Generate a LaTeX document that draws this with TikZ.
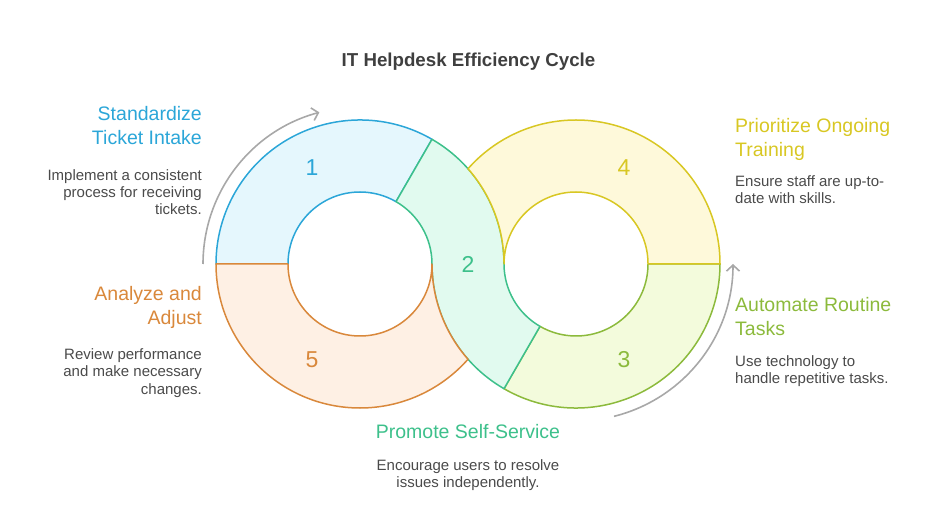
\documentclass[tikz,border=0pt]{standalone}
\usepackage{fontspec}
\setmainfont{Liberation Sans}
\usepackage{tikz}
\usetikzlibrary{calc}
\usetikzlibrary{arrows.meta}
\usepackage{xcolor}
\definecolor{c1}{HTML}{2BA6D8}
\definecolor{f1}{HTML}{E5F7FD}
\definecolor{c2}{HTML}{3DC08B}
\definecolor{f2}{HTML}{E1FAEF}
\definecolor{c3}{HTML}{8CBA3C}
\definecolor{f3}{HTML}{F3FBDC}
\definecolor{c4}{HTML}{D8C723}
\definecolor{f4}{HTML}{FEF9DA}
\definecolor{c5}{HTML}{D9883B}
\definecolor{f5}{HTML}{FEF0E4}
\definecolor{txtgray}{HTML}{4A4A4A}
\definecolor{arrgray}{HTML}{A8A8A8}

\begin{document}
\begin{tikzpicture}[x=1pt,y=1pt,
  seg/.style={line width=1.5pt, line join=round},
  num/.style={font=\fontsize{23}{23}\selectfont},
  head/.style={font=\fontsize{19.5}{24}\selectfont, inner sep=0pt},
  desc/.style={font=\fontsize{15}{17.3}\selectfont, text=txtgray, inner sep=0pt},
  cyc/.style={draw=arrgray, line width=1.6pt, ->},
  >={Straight Barb[length=6pt,width=13pt]}]
\useasboundingbox (0,0) rectangle (936,522);
\coordinate (L) at (360,258);
\coordinate (R) at (576,258);
\draw[seg, draw=c1, fill=f1] ($(L)+(60:144)$) arc[start angle=60,end angle=180,radius=144] -- ($(L)+(180:72)$) arc[start angle=180,end angle=60,radius=72] -- cycle;
\draw[seg, draw=c3, fill=f3] ($(R)+(240:144)$) arc[start angle=240,end angle=360,radius=144] -- ($(R)+(0:72)$) arc[start angle=360,end angle=240,radius=72] -- cycle;
\draw[seg, draw=c2, fill=f2] ($(L)+(60:144)$) arc[start angle=60,end angle=0,radius=144] arc[start angle=180,end angle=240,radius=72] -- ($(R)+(240:144)$) arc[start angle=240,end angle=180,radius=144] arc[start angle=0,end angle=60,radius=72] -- cycle;
\draw[seg, draw=c4, fill=f4] ($(R)+(0:144)$) arc[start angle=0,end angle=138.59,radius=144] arc[start angle=41.41,end angle=0,radius=144] arc[start angle=180,end angle=0,radius=72] -- cycle;
\draw[seg, draw=c5, fill=f5] ($(L)+(180:144)$) arc[start angle=180,end angle=318.59,radius=144] arc[start angle=221.41,end angle=180,radius=144] arc[start angle=0,end angle=-180,radius=72] -- cycle;
\node[num, text=c1] (n1) at (312,354) {1};
\node[num, text=c2] (n2) at (468,258) {2};
\node[num, text=c3] (n3) at (624,162) {3};
\node[num, text=c4] (n4) at (624,354) {4};
\node[num, text=c5] (n5) at (312,162) {5};
\draw[cyc] ($(L)+(180:157)$) arc[start angle=180,end angle=105,radius=157];
\draw[cyc] ($(R)+(-76:157)$) arc[start angle=-76,end angle=0,radius=157];
\node[font=\bfseries\fontsize{18.7}{22}\selectfont, text=txtgray!85!black, anchor=base] (title) at (468.5,455.3) {IT Helpdesk Efficiency Cycle};
\node[head, text=c1, anchor=base east, align=right] (h1) at (202,377) {Standardize\\Ticket Intake};
\node[desc, anchor=base east, align=right] (d1) at (202,307) {Implement a consistent\\process for receiving\\tickets.};
\node[head, text=c5, anchor=base east, align=right] (h5) at (202,197) {Analyze and\\Adjust};
\node[desc, anchor=base east, align=right] (d5) at (202,128) {Review performance\\and make necessary\\changes.};
\node[head, text=c4, anchor=base west, align=left] (h4) at (735,365) {Prioritize Ongoing\\Training};
\node[desc, anchor=base west, align=left] (d4) at (735,318) {Ensure staff are up-to-\\date with skills.};
\node[head, text=c3, anchor=base west, align=left] (h3) at (735,186) {Automate Routine\\Tasks};
\node[desc, anchor=base west, align=left] (d3) at (735,138) {Use technology to\\handle repetitive tasks.};
\node[head, text=c2, anchor=base] (h2) at (468,83.7) {Promote Self-Service};
\node[desc, anchor=base, align=center] (d2) at (468,34.7) {Encourage users to resolve\\issues independently.};
\end{tikzpicture}
\end{document}
